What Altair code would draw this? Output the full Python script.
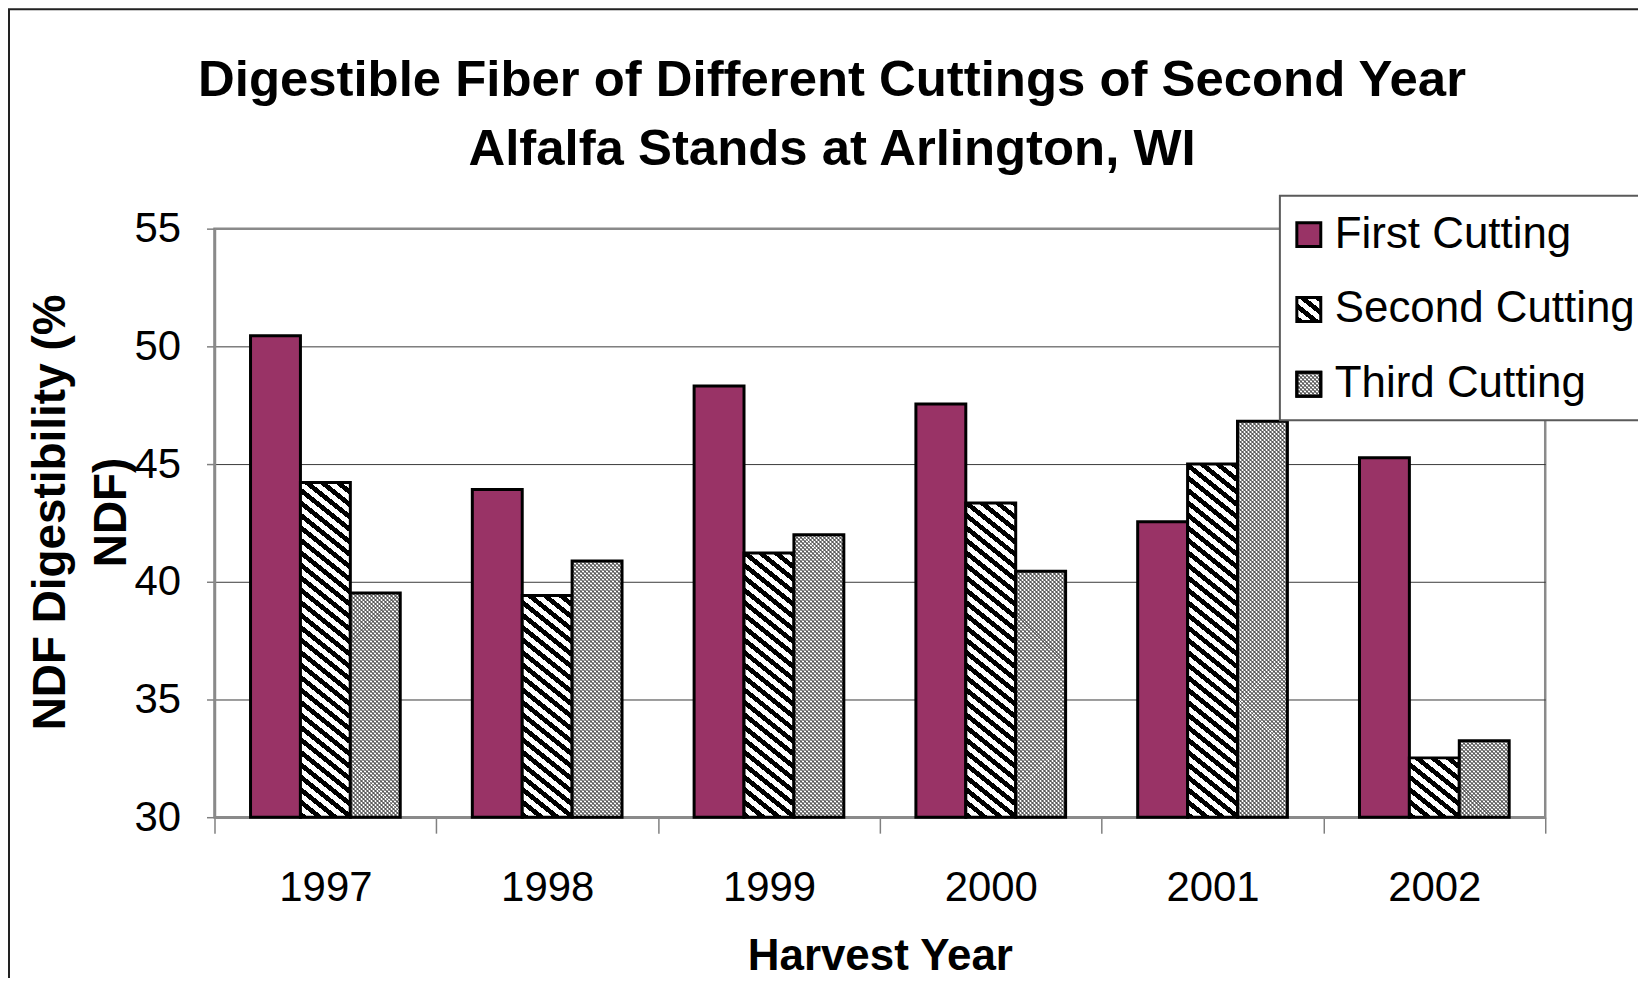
import math
import altair as alt
import pandas as pd

# ---------------- data ----------------
years = ["1997", "1998", "1999", "2000", "2001", "2002"]
series = ["First Cutting", "Second Cutting", "Third Cutting"]
first_cutting = [50.45, 43.92, 48.32, 47.55, 42.55, 45.27]
second_cutting = [44.22, 39.42, 41.22, 43.35, 45.00, 32.52]
third_cutting = [39.52, 40.88, 42.00, 40.45, 46.82, 33.25]
y_ticks = [30, 35, 40, 45, 50, 55]

title_lines = ["Digestible Fiber of Different Cuttings of Second Year",
               "Alfalfa Stands at Arlington, WI"]
y_title = ["NDF Digestibility (%", "NDF)"]
x_title = "Harvest Year"

# ---------------- layout / style ----------------
FONT = "Liberation Sans"
W, H = 1334, 590
Y_MIN, Y_MAX = 30, 55
OFF_PAD = 0.7222          # outer padding of the bar group inside each year band
STEP = W / len(years)
BAR_W = STEP / (len(series) + 2 * OFF_PAD)
PLUM = "#993366"

rows = []
for i, yr in enumerate(years):
    for s, vals in zip(series, [first_cutting, second_cutting, third_cutting]):
        rows.append({"year": yr, "series": s, "value": vals[i]})
df = pd.DataFrame(rows)


def px_height(v):
    return (v - Y_MIN) / (Y_MAX - Y_MIN) * H


def stripes(w, h, slope, period, col_a, col_b, frac_a, mirror=False):
    """Linear gradient (bounding-box units) giving stripes of screen slope `slope`."""
    k = h / (slope * w)
    dx = (1 + k) / (1 + k * k)
    dy = -k * (1 + k) / (1 + k * k)
    n = (slope * w + h) / period
    stops = []
    i = 0
    while i < n:
        t0 = min(i / n, 1.0)
        tm = min((i + frac_a) / n, 1.0)
        t1 = min((i + 1) / n, 1.0)
        stops += [{"offset": t0, "color": col_a}, {"offset": tm, "color": col_a},
                  {"offset": tm, "color": col_b}, {"offset": t1, "color": col_b}]
        i += 1
    x1, x2 = (1.0, 1.0 - dx) if mirror else (0.0, dx)
    return {"gradient": "linear", "x1": x1, "y1": 1.0, "x2": x2, "y2": 1.0 + dy,
            "stops": stops}


def hatch_fill(w, h):
    return stripes(w, h, 0.8, 12.5, "#000000", "#ffffff", 0.48)


def dots_base(w, h):
    return stripes(w, h, 1.0, 4.0, "#ffffff", "#808080", 0.5)


def dots_over(w, h):
    return stripes(w, h, 1.0, 4.0, "rgba(0,0,0,0)", "rgba(55,55,55,0.5)", 0.5, mirror=True)


x_enc = alt.X(
    "year:N", sort=years,
    scale=alt.Scale(domain=years, paddingInner=0, paddingOuter=0),
    axis=alt.Axis(
        title=x_title, labelAngle=0, labelFont=FONT, labelFontSize=42, labelColor="black",
        labelPadding=34, tickSize=16, tickBand="extent", tickColor="#808080", tickWidth=1.5,
        domainColor="#8a8a8a", domainWidth=2.5, grid=False,
        titleFont=FONT, titleFontSize=44, titleFontWeight="bold", titleColor="black",
        titleBaseline="alphabetic", titleY=153,
    ),
)
xo_enc = alt.XOffset("series:N", sort=series,
                     scale=alt.Scale(domain=series, paddingInner=0, paddingOuter=OFF_PAD))
y_enc = alt.Y(
    "value:Q",
    scale=alt.Scale(domain=[Y_MIN, Y_MAX], nice=False, zero=False),
    axis=alt.Axis(
        title=y_title, values=y_ticks, labelFont=FONT, labelFontSize=42, labelColor="black",
        labelPadding=26, labelFlush=False, labelOverlap=False,
        tickSize=8, tickColor="#808080", tickWidth=1.5,
        domainColor="#8a8a8a", domainWidth=2.5,
        grid=True, gridWidth=1,
        gridColor={"condition": {"test": "datum.value <= 30 || datum.value >= 55",
                                 "value": "rgba(0,0,0,0)"}, "value": "#3a3a3a"},
        titleFont=FONT, titleFontSize=46, titleFontWeight="bold", titleColor="black",
        titleAngle=270, titleAlign="center", titleBaseline="alphabetic",
        titleX=-150, titleY=284, titleLineHeight=61,
    ),
)

base = alt.Chart(df).encode(x=x_enc, xOffset=xo_enc, y=y_enc, y2=alt.Y2Datum(Y_MIN))

layers = []
# outer frame of the chart
frame = alt.Chart(pd.DataFrame({"f": [0]})).mark_rect(
    fillOpacity=0, stroke="#222222", strokeWidth=2
).encode(x=alt.value(-206), x2=alt.value(1700), y=alt.value(-220), y2=alt.value(1000))
layers.append(frame)

# first cutting (solid)
layers.append(base.transform_filter(alt.datum.series == series[0]).mark_bar(
    fill=PLUM, stroke="black", strokeWidth=3))

# second cutting (diagonal hatch), one layer per bar so each gets its own pattern
for yr, v in zip(years, second_cutting):
    layers.append(base.transform_filter(
        (alt.datum.series == series[1]) & (alt.datum.year == yr)
    ).mark_bar(fill=hatch_fill(BAR_W, px_height(v)), stroke="black", strokeWidth=3))

# third cutting (fine dotted grey)
for yr, v in zip(years, third_cutting):
    f = base.transform_filter((alt.datum.series == series[2]) & (alt.datum.year == yr))
    layers.append(f.mark_bar(fill=dots_base(BAR_W, px_height(v)), strokeWidth=0))
    layers.append(f.mark_bar(fill=dots_over(BAR_W, px_height(v)), stroke="black", strokeWidth=3))

# legend
LX, LY0, LDY = 1068, 6, 75
legend_box = alt.Chart(pd.DataFrame({"b": [0]})).mark_rect(
    fill="white", stroke="#5a5a5a", strokeWidth=2
).encode(x=alt.value(LX), x2=alt.value(1700), y=alt.value(-33), y2=alt.value(192))
layers.append(legend_box)

sym_fills = [PLUM, hatch_fill(24, 24), dots_base(24, 24)]
for i, s in enumerate(series):
    cy = LY0 + i * LDY
    sd = pd.DataFrame({"series": [s]})
    sym = alt.Chart(sd).mark_rect(fill=sym_fills[i], stroke="black", strokeWidth=3).encode(
        x=alt.value(LX + 17), x2=alt.value(LX + 41), y=alt.value(cy - 12), y2=alt.value(cy + 12))
    layers.append(sym)
    if i == 2:
        layers.append(alt.Chart(sd).mark_rect(fill=dots_over(24, 24), stroke="black", strokeWidth=3).encode(
            x=alt.value(LX + 17), x2=alt.value(LX + 41), y=alt.value(cy - 12), y2=alt.value(cy + 12)))
    layers.append(alt.Chart(sd).mark_text(
        align="left", baseline="middle", font=FONT, fontSize=44, color="black"
    ).encode(x=alt.value(LX + 55), y=alt.value(cy), text="series:N"))

chart = alt.layer(*layers).properties(
    width=W, height=H,
    autosize=alt.AutoSizeParams(type="none"),
    padding={"left": 207, "top": 220, "right": 93, "bottom": 160},
    background="white",
    title=alt.TitleParams(
        text=title_lines, font=FONT, fontSize=51, fontWeight="bold", color="black",
        anchor="middle", frame="group", dx=-48, dy=168, offset=0, baseline="top",
        lineHeight=68.5,
    ),
).configure_view(stroke="#8a8a8a", strokeWidth=2.5)

chart.save("out.html", embed_options={"renderer": "svg", "actions": False})
